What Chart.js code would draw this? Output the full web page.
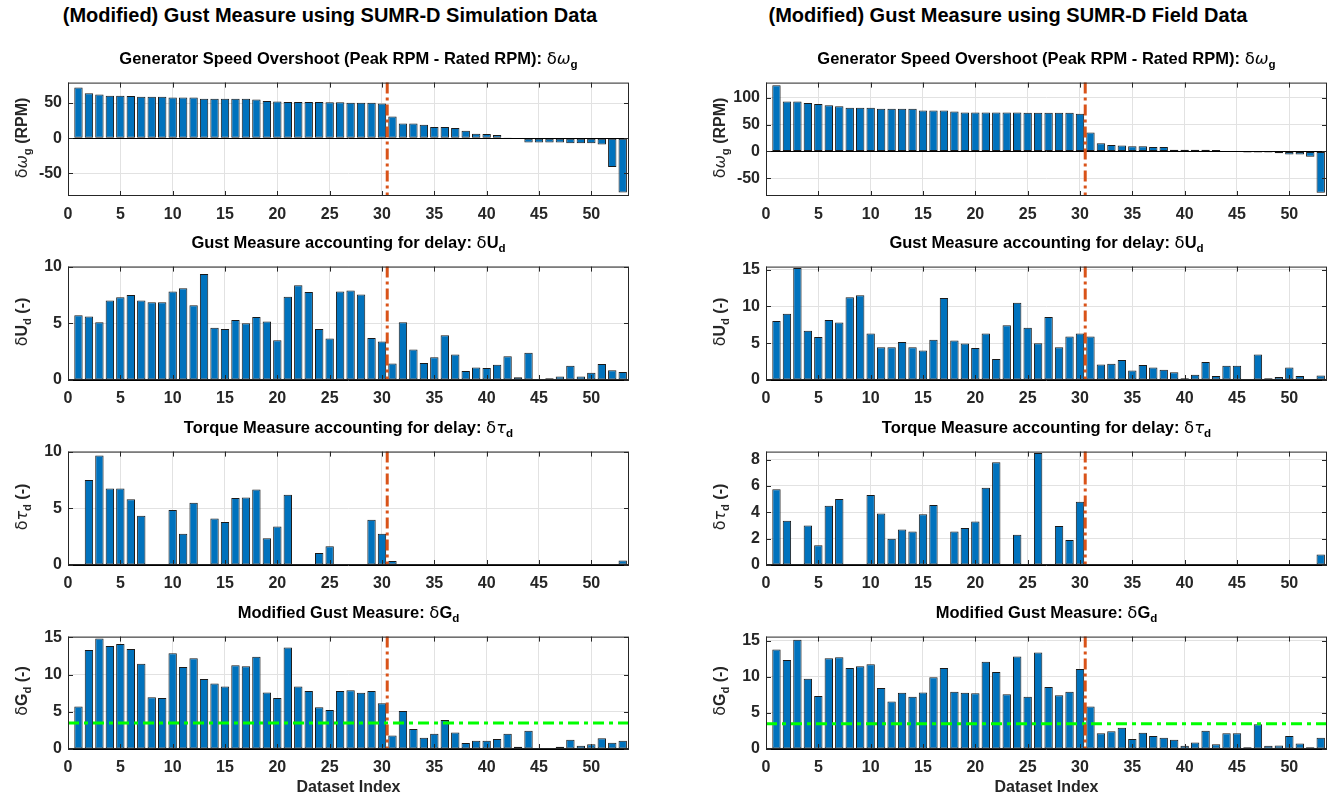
<!DOCTYPE html>
<html>
<head>
<meta charset="utf-8">
<script src="https://cdn.jsdelivr.net/npm/chart.js@4.4.0/dist/chart.umd.min.js"></script>
<style>
  body { margin:0; background:#fff; }
  #fig { position:relative; width:1338px; height:799px; overflow:hidden; font-family:"Liberation Sans", Arial, sans-serif; color:#000; }
  .sup { position:absolute; top:4px; height:22px; line-height:22px; font-weight:bold; font-size:20px; text-align:center; white-space:nowrap; }
  .ttl { position:absolute; height:20px; line-height:20px; font-weight:bold; font-size:16.5px; text-align:center; white-space:nowrap; }
  .xlab { position:absolute; height:20px; line-height:20px; font-weight:bold; font-size:16px; text-align:center; color:#262626; }
  .ylab { position:absolute; width:200px; height:20px; line-height:20px; font-weight:bold; font-size:16px; text-align:center; white-space:nowrap; color:#262626; transform:rotate(-90deg); }
  .gk { font-weight:normal; font-family:"DejaVu Sans", sans-serif; }
  sub { font-size:70%; vertical-align:-0.35em; line-height:0; }
  canvas { position:absolute; }
</style>
</head>
<body>
<div id="fig"></div>
<script>
/* ---------------- Data ---------------- */
const DATASET_INDEX = Array.from({length: 53}, (_, i) => i + 1);
const X_TICKS = [0, 5, 10, 15, 20, 25, 30, 35, 40, 45, 50];

const SIM_SPEED = [72, 64, 62, 60.5, 60.5, 60, 59, 59, 59, 58, 58, 58, 56, 56, 56, 56, 56, 55, 53, 52,
  51.5, 51.5, 51.5, 51.5, 51, 51, 50.5, 50.5, 50.5, 49.5, 31, 21, 21, 19, 16, 16, 14.5, 10.5, 6.5, 6,
  4.5, 1, -1, -6, -6, -6, -6, -7, -7, -7, -9, -41, -77];
const FIELD_SPEED = [123, 93, 93, 90, 88, 86, 84, 81, 81, 81, 79.5, 79.5, 79.5, 79.5, 76, 76, 76, 74, 72.5, 72.5,
  72.5, 72.5, 72.5, 72.5, 72, 72, 72, 72, 72, 70, 35, 15, 12, 11, 9.5, 9.5, 8, 8, 3, 3,
  3, 3, 2.5, 0.3, 0.3, -2, -2, -2, -3.5, -6, -6, -10, -77];

const SIM_GUST = [5.7, 5.6, 5.1, 7.0, 7.3, 7.5, 7.0, 6.85, 6.85, 7.8, 8.1, 6.6, 9.35, 4.6, 4.5, 5.3, 5.0, 5.55, 5.15, 3.5,
  7.35, 8.35, 7.75, 4.5, 3.65, 7.8, 7.9, 7.55, 3.7, 3.4, 1.45, 5.1, 2.7, 1.5, 2.0, 3.95, 2.25, 0.8, 1.1, 1.05,
  1.35, 2.1, 0.25, 2.4, 0.08, 0.15, 0.3, 1.25, 0.3, 0.65, 1.4, 0.85, 0.7];
const FIELD_GUST = [8.0, 9.0, 15.2, 6.7, 5.85, 8.15, 7.8, 11.25, 11.5, 6.3, 4.45, 4.45, 5.15, 4.45, 4.0, 5.45, 11.15, 5.35, 4.95, 4.35,
  6.3, 2.85, 7.45, 10.5, 7.1, 5.0, 8.55, 4.45, 5.9, 6.3, 5.9, 2.1, 2.2, 2.7, 1.3, 2.05, 1.7, 1.4, 1.05, 0.25,
  0.7, 2.45, 0.55, 1.95, 1.95, 0.1, 3.45, 0.25, 0.4, 1.7, 0.55, 0.1, 0.6];

const SIM_TORQUE = [0, 7.5, 9.65, 6.75, 6.75, 5.8, 4.35, 0, 0, 4.85, 2.75, 5.5, 0, 4.1, 3.8, 5.9, 5.95, 6.65, 2.35, 3.4,
  6.2, 0, 0, 1.05, 1.65, 0, 0, 0, 4.0, 2.75, 0.35, 0, 0, 0, 0, 0, 0, 0, 0, 0,
  0, 0, 0, 0, 0, 0, 0, 0, 0, 0, 0, 0, 0.4];
const FIELD_TORQUE = [5.75, 3.35, 0, 3.0, 1.5, 4.5, 5.0, 0, 0, 5.3, 3.9, 2.0, 2.7, 2.55, 3.85, 4.55, 0, 2.55, 2.8, 3.3,
  5.85, 7.8, 0, 2.3, 0, 8.5, 0, 2.95, 1.9, 4.8, 0, 0, 0, 0, 0, 0, 0, 0, 0, 0,
  0, 0, 0, 0, 0, 0, 0, 0, 0, 0, 0, 0, 0.8];

const SIM_MOD_GUST = [5.7, 13.3, 14.85, 13.85, 14.1, 13.45, 11.45, 6.95, 6.85, 12.85, 11.0, 12.2, 9.4, 8.8, 8.4, 11.25, 11.1, 12.4, 7.6, 6.85,
  13.65, 8.4, 7.8, 5.6, 5.25, 7.8, 7.9, 7.55, 7.8, 6.15, 1.8, 5.1, 2.7, 1.5, 2.05, 3.9, 2.2, 0.8, 1.1, 1.1,
  1.35, 2.05, 0.3, 2.45, 0.12, 0.12, 0.3, 1.25, 0.45, 0.65, 1.45, 0.85, 1.1];
const FIELD_MOD_GUST = [13.8, 12.35, 15.15, 9.75, 7.35, 12.6, 12.75, 11.25, 11.5, 11.75, 8.45, 6.6, 7.8, 7.25, 7.85, 9.95, 11.25, 7.95, 7.8, 7.75,
  12.1, 10.7, 7.6, 12.85, 7.25, 13.4, 8.6, 7.45, 7.95, 11.1, 5.9, 2.2, 2.45, 2.95, 1.4, 2.25, 1.8, 1.55, 1.3, 0.45,
  0.9, 2.55, 0.65, 2.2, 2.2, 0.25, 3.45, 0.45, 0.5, 1.8, 0.75, 0.25, 1.55];

const SPEED_TICKS_SIM = [-50, 0, 50];
const SPEED_TICKS_FIELD = [-50, 0, 50, 100];
const GUST_TICKS_SIM = [0, 5, 10];
const GUST_TICKS_FIELD = [0, 5, 10, 15];
const TORQUE_TICKS_SIM = [0, 5, 10];
const TORQUE_TICKS_FIELD = [0, 2, 4, 6, 8];
const MOD_TICKS = [0, 5, 10, 15];

const SPLIT_AT = 30.5;      // boundary between the two dataset groups
const THRESHOLD = 3.5;      // gust threshold on the modified measure

/* ---------------- Text ---------------- */
const SUPTITLES = ['(Modified) Gust Measure using SUMR-D Simulation Data', '(Modified) Gust Measure using SUMR-D Field Data'];
const TITLES = [
  'Generator Speed Overshoot (Peak RPM - Rated RPM): <span class="gk">δ<i>ω</i></span><sub>g</sub>',
  'Gust Measure accounting for delay: <span class="gk">δ</span>U<sub>d</sub>',
  'Torque Measure accounting for delay: <span class="gk">δ<i>τ</i></span><sub>d</sub>',
  'Modified Gust Measure: <span class="gk">δ</span>G<sub>d</sub>'
];
const YLABELS = [
  '<span class="gk">δ<i>ω</i></span><sub>g</sub> (RPM)',
  '<span class="gk">δ</span>U<sub>d</sub> (-)',
  '<span class="gk">δ<i>τ</i></span><sub>d</sub> (-)',
  '<span class="gk">δ</span>G<sub>d</sub> (-)'
];
const XLABEL = 'Dataset Index';

/* ---------------- Layout & style ---------------- */
const COL_LEFT = [68, 766], COL_RIGHT = [629, 1327];
const ROW_TOP = [79, 263, 448, 633], ROW_BOTTOM = [196, 380, 565, 749];
const SUP_CENTER = [330, 1008], YLAB_CENTER = [22, 720];
const Y_AXIS_W = 50, X_AXIS_H = 30, PAD = 12, TICK_LEN = 5;
const X_MAX = 53.6;
const BAR_FILL = '#0072BD', BAR_EDGE = '#1a1a1a', AXIS_COLOR = '#262626', GRID = '#e2e2e2';
const SPLIT_COLOR = '#D95319', THRESH_COLOR = '#00FF00';
const FONT = '"Liberation Sans", Arial, sans-serif';

const PANELS = [
  {col: 0, row: 0, values: SIM_SPEED, yMin: -82, yMax: 79, yTicks: SPEED_TICKS_SIM},
  {col: 0, row: 1, values: SIM_GUST, yMin: 0, yMax: 10, yTicks: GUST_TICKS_SIM},
  {col: 0, row: 2, values: SIM_TORQUE, yMin: 0, yMax: 10, yTicks: TORQUE_TICKS_SIM},
  {col: 0, row: 3, values: SIM_MOD_GUST, yMin: 0, yMax: 15.1, yTicks: MOD_TICKS, threshold: THRESHOLD},
  {col: 1, row: 0, values: FIELD_SPEED, yMin: -83, yMax: 128, yTicks: SPEED_TICKS_FIELD},
  {col: 1, row: 1, values: FIELD_GUST, yMin: 0, yMax: 15.4, yTicks: GUST_TICKS_FIELD},
  {col: 1, row: 2, values: FIELD_TORQUE, yMin: 0, yMax: 8.6, yTicks: TORQUE_TICKS_FIELD},
  {col: 1, row: 3, values: FIELD_MOD_GUST, yMin: 0, yMax: 15.6, yTicks: MOD_TICKS, threshold: THRESHOLD}
];

/* ---------------- Decoration plugin (box, ticks, marker lines) ---------------- */
const panelDecor = {
    id: 'panelDecor',
    afterDatasetsDraw(chart, args, opts) {
        const {ctx, chartArea: a} = chart;
        const xs = chart.scales.x, ys = chart.scales.y;
        const seg = (x1, y1, x2, y2) => { ctx.beginPath(); ctx.moveTo(x1, y1); ctx.lineTo(x2, y2); ctx.stroke(); };
        ctx.save();

        // bar baseline at zero
        ctx.strokeStyle = '#000'; ctx.lineWidth = 1;
        const y0 = Math.round(ys.getPixelForValue(0)) + 0.5;
        seg(a.left, y0, a.right, y0);

        // threshold line
        if (opts.threshold != null) {
            const yt = ys.getPixelForValue(opts.threshold);
            ctx.strokeStyle = THRESH_COLOR; ctx.lineWidth = 3; ctx.setLineDash([11, 5, 4, 5]);
            seg(a.left, yt, a.right, yt);
        }

        // split line
        const xv = xs.getPixelForValue(opts.split);
        ctx.strokeStyle = SPLIT_COLOR; ctx.lineWidth = 3; ctx.setLineDash([11, 4, 3, 4]);
        seg(xv, a.top, xv, a.bottom);
        ctx.setLineDash([]);

        // axes box and inward ticks
        ctx.strokeStyle = AXIS_COLOR; ctx.lineWidth = 1;
        ctx.strokeRect(a.left + 0.5, a.top + 0.5, a.right - a.left - 1, a.bottom - a.top - 1);
        xs.ticks.forEach(t => {
            const px = Math.round(xs.getPixelForValue(t.value)) + 0.5;
            seg(px, a.bottom, px, a.bottom - TICK_LEN);
            seg(px, a.top, px, a.top + TICK_LEN);
        });
        ys.ticks.forEach(t => {
            const py = Math.round(ys.getPixelForValue(t.value)) + 0.5;
            seg(a.left, py, a.left + TICK_LEN, py);
            seg(a.right, py, a.right - TICK_LEN, py);
        });
        ctx.restore();
    }
};

/* ---------------- Build figure ---------------- */
const fig = document.getElementById('fig');

function addText(cls, html, left, top, width) {
    const d = document.createElement('div');
    d.className = cls;
    d.innerHTML = html;
    d.style.left = left + 'px';
    d.style.top = top + 'px';
    if (width) d.style.width = width + 'px';
    fig.appendChild(d);
}

function buildPanel(p) {
    const L = COL_LEFT[p.col], R = COL_RIGHT[p.col], T = ROW_TOP[p.row], B = ROW_BOTTOM[p.row];
    const w = R - L + Y_AXIS_W + PAD, h = B - T + PAD + X_AXIS_H;
    const canvas = document.createElement('canvas');
    canvas.width = w; canvas.height = h;
    canvas.style.left = (L - Y_AXIS_W) + 'px';
    canvas.style.top = (T - PAD) + 'px';
    canvas.style.width = w + 'px'; canvas.style.height = h + 'px';
    fig.appendChild(canvas);

    addText('ttl', TITLES[p.row], L, T - 31, R - L);
    addText('ylab', YLABELS[p.row], YLAB_CENTER[p.col] - 100, (T + B) / 2 - 10);
    if (p.row === 3) addText('xlab', XLABEL, L, B + 28, R - L);

    const tickFont = {family: FONT, size: 16, weight: 'bold'};
    new Chart(canvas, {
        type: 'bar',
        data: {
            datasets: [{
                data: DATASET_INDEX.map((x, i) => ({x, y: p.values[i]})),
                backgroundColor: BAR_FILL,
                borderColor: BAR_EDGE,
                borderWidth: 1,
                borderSkipped: false,
                barPercentage: 0.8,
                categoryPercentage: 1
            }]
        },
        options: {
            responsive: false, animation: false, devicePixelRatio: 1,
            layout: {padding: {left: 0, top: PAD, right: PAD, bottom: 0}},
            plugins: {
                legend: {display: false}, tooltip: {enabled: false},
                panelDecor: {split: SPLIT_AT, threshold: p.threshold}
            },
            scales: {
                x: {
                    type: 'linear', min: 0, max: X_MAX, offset: false,
                    afterBuildTicks: ax => { ax.ticks = X_TICKS.map(v => ({value: v})); },
                    afterFit: s => { s.height = X_AXIS_H; },
                    grid: {color: GRID, drawTicks: false, offset: false},
                    border: {display: false},
                    ticks: {padding: 9, color: AXIS_COLOR, font: tickFont, maxRotation: 0, autoSkip: false}
                },
                y: {
                    min: p.yMin, max: p.yMax,
                    afterBuildTicks: ax => { ax.ticks = p.yTicks.map(v => ({value: v})); },
                    afterFit: s => { s.width = Y_AXIS_W; },
                    grid: {color: GRID, drawTicks: false},
                    border: {display: false},
                    ticks: {padding: 6, color: AXIS_COLOR, font: tickFont}
                }
            }
        },
        plugins: [panelDecor]
    });
}

SUPTITLES.forEach((s, c) => addText('sup', s, SUP_CENTER[c] - 330, 4, 660));
PANELS.forEach(buildPanel);
</script>
</body>
</html>
